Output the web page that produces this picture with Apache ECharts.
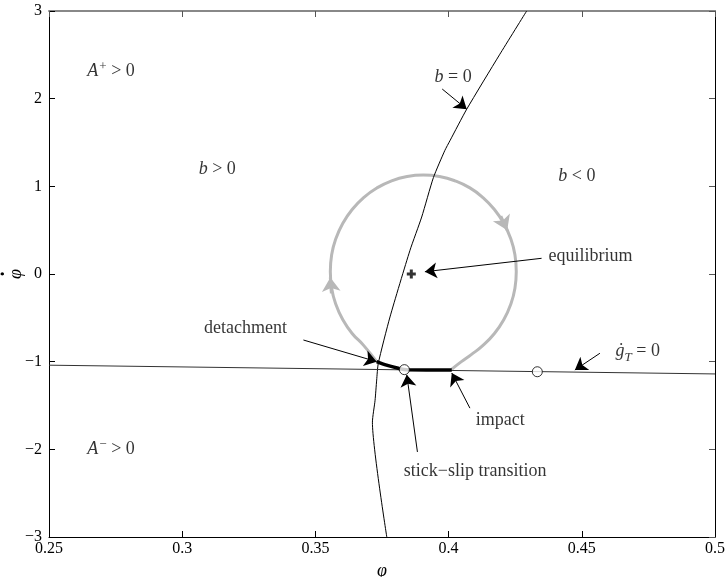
<!DOCTYPE html>
<html>
<head>
<meta charset="utf-8">
<script src="https://cdn.jsdelivr.net/npm/echarts@6/dist/echarts.min.js"></script>
<style>
  html, body { margin: 0; padding: 0; background: #fff; }
  #chart { width: 726px; height: 577px; }
</style>
</head>
<body>
<div id="chart"></div>
<script>
// Axis ticks
const xTickValues = [0.25, 0.3, 0.35, 0.4, 0.45, 0.5];
const xTickLabels = ['0.25', '0.3', '0.35', '0.4', '0.45', '0.5'];
const yTickValues = [-3, -2, -1, 0, 1, 2, 3];
const yTickLabels = ['\u22123', '\u22122', '\u22121', '0', '1', '2', '3'];

// Boundary b = 0 in the (phi, phidot) plane
const bZeroCurve = [
  [0.4293, 3.0], [0.4191, 2.5], [0.4068, 1.88], [0.4005, 1.52], [0.3986, 1.41],
  [0.3943, 1.10], [0.3899, 0.65], [0.3855, 0.27], [0.3780, -0.49], [0.3736, -1.02],
  [0.3730, -1.21], [0.3724, -1.44], [0.3714, -1.69], [0.3768, -3.0]
];

// Line of zero tangential relative velocity, gT' = 0
const gtZeroLine = [[0.25, -1.04], [0.5, -1.14]];

// Slip phase of the periodic orbit: detachment -> impact (clockwise)
const slipOrbit = [
  [0.3730, -1.000], [0.3681, -0.814], [0.3638, -0.678], [0.3603, -0.521], [0.3577, -0.347],
  [0.3561, -0.162], [0.3556, 0.029], [0.3561, 0.220], [0.3577, 0.405], [0.3603, 0.579],
  [0.3638, 0.736], [0.3681, 0.872], [0.3731, 0.982], [0.3786, 1.063], [0.3844, 1.112],
  [0.3905, 1.129], [0.3966, 1.112], [0.4024, 1.063], [0.4080, 0.982], [0.4129, 0.872],
  [0.4172, 0.736], [0.4207, 0.579], [0.4233, 0.405], [0.4249, 0.220], [0.4254, 0.029],
  [0.4249, -0.162], [0.4233, -0.347], [0.4207, -0.521], [0.4172, -0.678], [0.4129, -0.814],
  [0.4085, -0.920], [0.4048, -1.000], [0.4012, -1.085]
];

// Stick phase: impact -> stick-slip transition -> detachment
const stickOrbit = [
  [0.4012, -1.095], [0.3843, -1.093], [0.3811, -1.075], [0.3767, -1.04], [0.3730, -1.00]
];

// Direction markers on the slip orbit (from, to)
const orbitArrows = [
  [[0.4196, 0.66], [0.4220, 0.50]],
  [[0.3560, -0.22], [0.3556, -0.04]]
];

// Marked states
const transitionPoints = [[0.3834, -1.091], [0.4333, -1.115]];
const equilibrium = [[0.386, 0.0]];

// Annotation arrows (tail, head)
const pointerArrows = [
  [[0.3976, 2.11], [0.4068, 1.88]],
  [[0.4349, 0.179], [0.3911, 0.026]],
  [[0.3455, -0.753], [0.3730, -1.00]],
  [[0.4568, -0.904], [0.4474, -1.095]],
  [[0.4080, -1.53], [0.4012, -1.13]],
  [[0.3883, -2.03], [0.3843, -1.15]]
];

// Region and point annotations: [phi, phidot, text, side]
const notes = [
  [0.2642, 2.31, '{i|A}{sup|+}{t| > 0}', 'right'],
  [0.3060, 1.19, '{i|b}{t| > 0}', 'right'],
  [0.4410, 1.11, '{i|b}{t| < 0}', 'right'],
  [0.4017, 2.24, '{i|b}{t| = 0}', 'inside'],
  [0.4373, 0.197, '{t|equilibrium}', 'right'],
  [0.4625, -0.886, '{i|\u0121}{sub|T}{t| = 0}', 'right'],
  [0.3395, -0.62, '{t|detachment}', 'left'],
  [0.4100, -1.665, '{t|impact}', 'right'],
  [0.3830, -2.25, '{t|stick\u2212slip transition}', 'right'],
  [0.2642, -2.00, '{i|A}{sup|\u2212}{t| > 0}', 'right']
];

const serif = '"Liberation Serif", "DejaVu Serif", serif';

const richStyles = {
  t: { fontFamily: serif, fontSize: 18, color: '#000', lineHeight: 26 },
  i: { fontFamily: serif, fontSize: 18, fontStyle: 'italic', color: '#000', lineHeight: 26 },
  sup: { fontFamily: serif, fontSize: 13, color: '#000', verticalAlign: 'top', lineHeight: 26, padding: [2, 0, 0, 1] },
  sub: { fontFamily: serif, fontSize: 13, fontStyle: 'italic', color: '#000', verticalAlign: 'bottom', lineHeight: 26, padding: [0, 0, 1, 0] }
};

const chart = echarts.init(document.getElementById('chart'), null, { renderer: 'canvas' });

const tickLabelStyle = { fontFamily: serif, fontSize: 16, color: '#000' };

chart.setOption({
  animation: false,
  backgroundColor: '#fff',
  grid: { left: 49, right: 11, top: 11, bottom: 40, containLabel: false, outerBoundsMode: 'none' },
  xAxis: [
    {
      type: 'value', min: 0.25, max: 0.5, interval: 0.05, position: 'bottom',
      axisLine: { onZero: false, lineStyle: { color: '#000', width: 1 } },
      axisTick: { inside: true, length: 6, lineStyle: { color: '#000' } },
      axisLabel: Object.assign({
        margin: 4,
        formatter: v => xTickLabels[Math.round((v - xTickValues[0]) / 0.05)]
      }, tickLabelStyle),
      splitLine: { show: false },
      name: '\u03c6', nameLocation: 'middle', nameGap: 25, nameMoveOverlap: false,
      nameTextStyle: { fontFamily: serif, fontSize: 18, fontStyle: 'italic', color: '#000' }
    },
    {
      type: 'value', min: 0.25, max: 0.5, interval: 0.05, position: 'top',
      axisLine: { onZero: false, lineStyle: { color: '#888', width: 2 } },
      axisTick: { inside: true, length: 6, lineStyle: { color: '#555' } },
      axisLabel: { show: false },
      splitLine: { show: false }
    }
  ],
  yAxis: [
    {
      type: 'value', min: -3, max: 3, interval: 1, position: 'left',
      axisLine: { onZero: false, lineStyle: { color: '#000', width: 1 } },
      axisTick: { inside: true, length: 6, lineStyle: { color: '#000' } },
      axisLabel: Object.assign({
        margin: 7,
        formatter: v => yTickLabels[yTickValues.indexOf(Math.round(v))]
      }, tickLabelStyle),
      splitLine: { show: false },
      // dot drawn as its own line so it sits over the rotated phi
      name: '{d|\u00b7}\n{p|\u03c6}', nameLocation: 'middle', nameGap: 24, nameRotate: 90,
      nameMoveOverlap: false,
      nameTextStyle: {
        color: '#000',
        rich: {
          d: { fontFamily: serif, fontSize: 20, fontWeight: 'bold', lineHeight: 6, align: 'center', color: '#000' },
          p: { fontFamily: serif, fontSize: 18, fontStyle: 'italic', lineHeight: 18, align: 'center', color: '#000' }
        }
      }
    },
    {
      type: 'value', min: -3, max: 3, interval: 1, position: 'right',
      axisLine: { onZero: false, lineStyle: { color: '#000', width: 1 } },
      axisTick: { inside: true, length: 6, lineStyle: { color: '#555' } },
      axisLabel: { show: false },
      splitLine: { show: false }
    }
  ],
  series: [
    {
      name: 'b = 0', type: 'line', data: bZeroCurve, symbol: 'none', smooth: 0.2,
      lineStyle: { color: '#000', width: 1 }, silent: true, z: 3
    },
    {
      name: 'gT = 0', type: 'line', data: gtZeroLine, symbol: 'none',
      lineStyle: { color: '#333', width: 1 }, silent: true, z: 3
    },
    {
      name: 'slip', type: 'line', data: slipOrbit, symbol: 'none', smooth: 0.5,
      lineStyle: { color: '#b8b8b8', width: 3 }, silent: true, z: 2
    },
    {
      name: 'orbit direction', type: 'lines', coordinateSystem: 'cartesian2d',
      data: orbitArrows.map(c => ({ coords: c })),
      symbol: ['none', 'arrow'], symbolSize: [9, 14],
      lineStyle: { color: '#b8b8b8', width: 3, opacity: 1 }, silent: true, z: 2
    },
    {
      name: 'stick', type: 'line', data: stickOrbit, symbol: 'none', smooth: 0.3,
      lineStyle: { color: '#000', width: 3.5 }, silent: true, z: 4
    },
    {
      name: 'transitions', type: 'scatter', data: transitionPoints, symbol: 'circle', symbolSize: 10,
      itemStyle: { color: '#fff', borderColor: '#000', borderWidth: 1 }, silent: true, z: 6
    },
    {
      name: 'equilibrium', type: 'scatter', data: equilibrium,
      symbol: 'path://M3,0H6V3H9V6H6V9H3V6H0V3H3Z', symbolSize: 9,
      itemStyle: { color: '#000' }, silent: true, z: 6
    },
    {
      name: 'pointers', type: 'lines', coordinateSystem: 'cartesian2d',
      data: pointerArrows.map(c => ({ coords: c })),
      symbol: ['none', 'arrow'], symbolSize: [7, 12],
      lineStyle: { color: '#000', width: 1, opacity: 1 }, silent: true, z: 5
    },
    {
      name: 'notes', type: 'scatter', symbolSize: 1, silent: true, z: 7,
      itemStyle: { color: 'rgba(0,0,0,0)' },
      data: notes.map(n => ({
        value: [n[0], n[1]],
        label: {
          show: true, position: n[3], distance: 0,
          formatter: n[2], rich: richStyles
        }
      }))
    }
  ]
});
</script>
</body>
</html>
